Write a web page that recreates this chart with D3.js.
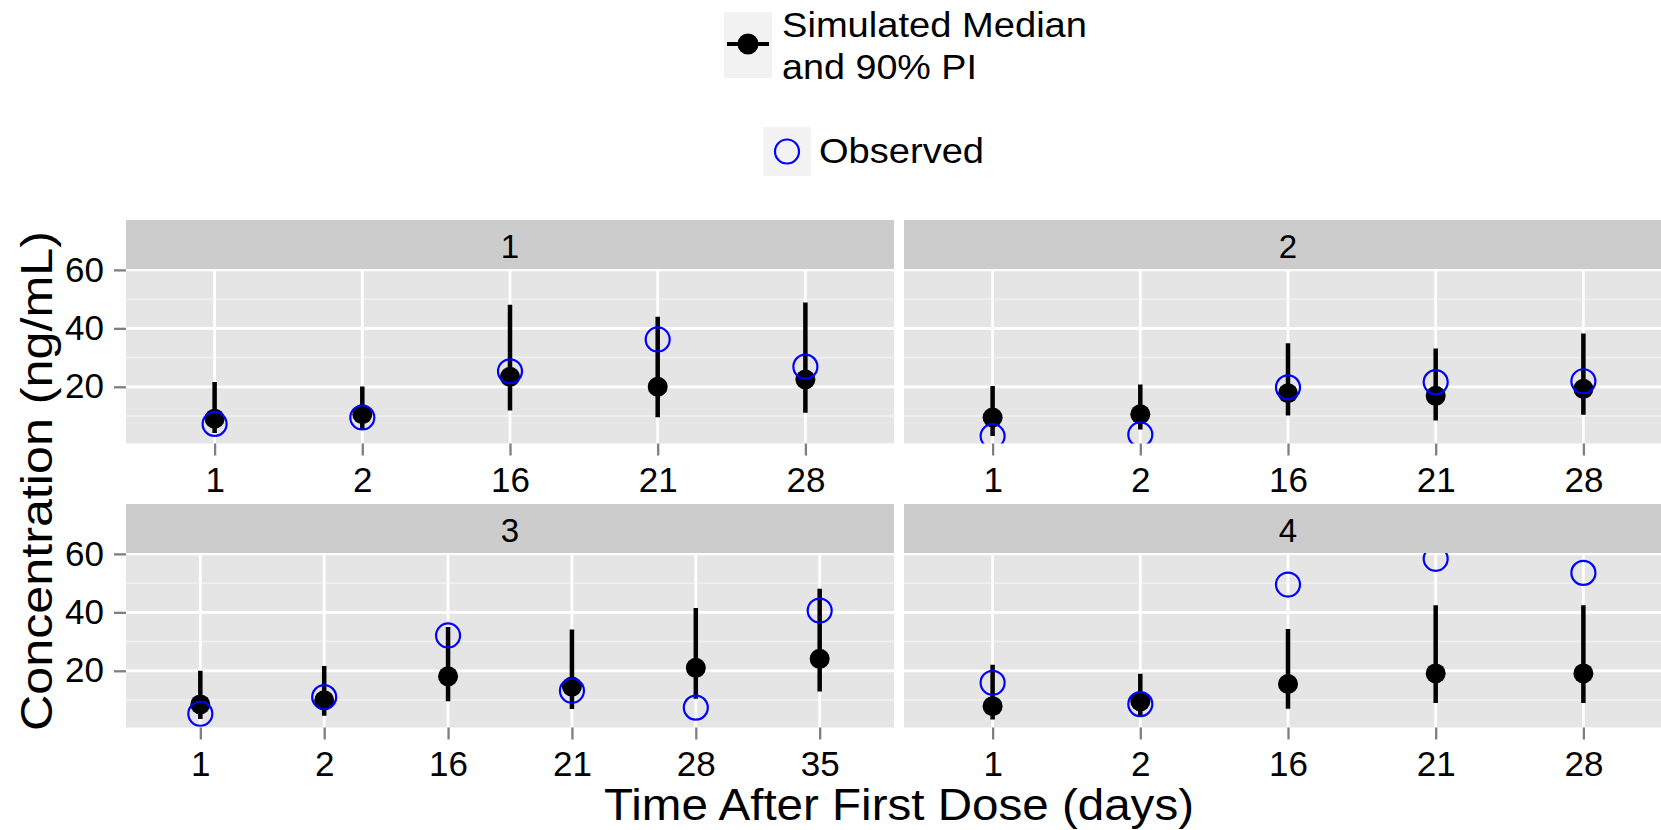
<!DOCTYPE html>
<html>
<head>
<meta charset="utf-8">
<script src="https://cdn.jsdelivr.net/npm/d3@7"></script>
<style>
  html, body { margin: 0; padding: 0; background: #ffffff; }
  svg { display: block; font-family: "Liberation Sans", Arial, Helvetica, sans-serif; }
</style>
</head>
<body>
<svg id="chart" width="1661" height="830"></svg>
<script>
// Facet labels (one panel per group)
const panels = ["1", "2", "3", "4"];

// Sampling times (days) shown on each panel's discrete x axis
const timeLabels = [
  ["1", "2", "16", "21", "28"],
  ["1", "2", "16", "21", "28"],
  ["1", "2", "16", "21", "28", "35"],
  ["1", "2", "16", "21", "28"]
];

// Simulated median concentration (ng/mL)
const simMedian = [
  [9.1, 10.6, 23.4, 20.0, 22.5],
  [9.5, 10.6, 17.8, 16.9, 19.3],
  [8.5, 9.9, 18.1, 14.6, 21.0, 24.1],
  [7.9, 9.5, 15.5, 19.1, 19.1]
];

// Lower bound of the 90% prediction interval
const simLower = [
  [4.2, 5.4, 11.9, 9.6, 11.1],
  [3.2, 5.4, 10.2, 8.5, 10.4],
  [3.5, 4.6, 9.6, 6.9, 10.4, 12.9],
  [3.3, 4.8, 7.0, 9.0, 9.0]
];

// Upper bound of the 90% prediction interval
const simUpper = [
  [21.6, 20.1, 48.1, 44.0, 48.8],
  [20.3, 20.8, 34.9, 33.1, 38.2],
  [20.0, 21.6, 35.0, 34.1, 41.5, 48.1],
  [22.1, 19.0, 34.3, 42.4, 42.4]
];

// Observed concentration (ng/mL)
const observed = [
  [7.3, 9.5, 25.3, 36.2, 26.9],
  [3.1, 3.7, 19.8, 21.6, 21.9],
  [5.3, 11.0, 32.1, 13.2, 7.4, 40.6],
  [15.9, 8.6, 49.5, 58.3, 53.5]
];

// y axis breaks
const yMajorTicks = [20, 40, 60];
const yMinorTicks = [10, 30, 50];

// ---- layout ----
const svg = d3.select("#chart");
const colX = [126, 904];
const panelW = 768;
const rowStripTop = [220, 504];
const stripH = 49;
const panelH = 174.5;
const yDomain = [0.6, 60.3];

const FONT_TICK = 35, FONT_STRIP = 33, FONT_TITLE = 45, FONT_LEGEND = 35;

const defs = svg.append("defs");

panels.forEach((label, i) => {
  const col = i % 2, row = Math.floor(i / 2);
  const x0 = colX[col];
  const stripTop = rowStripTop[row];
  const top = stripTop + stripH;
  const bottom = top + panelH;

  const x = d3.scalePoint().domain(timeLabels[i]).range([x0, x0 + panelW]).padding(0.6);
  const y = d3.scaleLinear().domain(yDomain).range([bottom, top]);

  // strip
  svg.append("rect")
    .attr("x", x0).attr("y", stripTop).attr("width", panelW).attr("height", stripH)
    .attr("fill", "#CCCCCC");
  svg.append("text")
    .attr("x", x0 + panelW / 2).attr("y", stripTop + 37.5)
    .attr("text-anchor", "middle").attr("font-size", FONT_STRIP).attr("fill", "#000")
    .text(label);

  // panel background
  svg.append("rect")
    .attr("x", x0).attr("y", top).attr("width", panelW).attr("height", panelH)
    .attr("fill", "#E5E5E5");

  const g = svg.append("g");
  const clipId = "clip-" + i;
  defs.append("clipPath").attr("id", clipId)
    .append("rect").attr("x", x0).attr("y", top).attr("width", panelW).attr("height", panelH);
  g.attr("clip-path", `url(#${clipId})`);

  // grid lines
  g.selectAll(".minor").data(yMinorTicks).join("line")
    .attr("x1", x0).attr("x2", x0 + panelW)
    .attr("y1", d => y(d)).attr("y2", d => y(d))
    .attr("stroke", "#F2F2F2").attr("stroke-width", 1.4);
  g.selectAll(".major").data(yMajorTicks).join("line")
    .attr("x1", x0).attr("x2", x0 + panelW)
    .attr("y1", d => y(d)).attr("y2", d => y(d))
    .attr("stroke", "#FFFFFF").attr("stroke-width", 2.8);
  g.selectAll(".vmajor").data(timeLabels[i]).join("line")
    .attr("x1", d => x(d)).attr("x2", d => x(d))
    .attr("y1", top).attr("y2", bottom)
    .attr("stroke", "#FFFFFF").attr("stroke-width", 2.8);

  // simulated 90% PI + median
  const sim = timeLabels[i].map((t, k) => ({ t, lo: simLower[i][k], hi: simUpper[i][k], med: simMedian[i][k], obs: observed[i][k] }));
  g.selectAll(".pi").data(sim).join("line")
    .attr("x1", d => x(d.t)).attr("x2", d => x(d.t))
    .attr("y1", d => y(d.lo)).attr("y2", d => y(d.hi))
    .attr("stroke", "#000").attr("stroke-width", 4.5);
  g.selectAll(".med").data(sim).join("circle")
    .attr("cx", d => x(d.t)).attr("cy", d => y(d.med)).attr("r", 10)
    .attr("fill", "#000");

  // observed
  g.selectAll(".obs").data(sim).join("circle")
    .attr("cx", d => x(d.t)).attr("cy", d => y(d.obs)).attr("r", 12)
    .attr("fill", "none").attr("stroke", "#0000FF").attr("stroke-width", 2.2);

  // x axis
  const xAxis = svg.append("g")
    .attr("transform", `translate(0,${bottom})`)
    .call(d3.axisBottom(x).tickSize(12).tickPadding(12));
  xAxis.select(".domain").remove();
  xAxis.selectAll(".tick line").attr("stroke", "#7F7F7F").attr("stroke-width", 2.3);
  xAxis.selectAll(".tick text").attr("font-size", FONT_TICK).attr("fill", "#000")
    .attr("font-family", null);

  // y axis on left column only
  if (col === 0) {
    const yAxis = svg.append("g")
      .attr("transform", `translate(${x0},0)`)
      .call(d3.axisLeft(y).tickValues(yMajorTicks).tickSize(12).tickPadding(10));
    yAxis.select(".domain").remove();
    yAxis.selectAll(".tick line").attr("stroke", "#7F7F7F").attr("stroke-width", 2.3);
    yAxis.selectAll(".tick text").attr("font-size", FONT_TICK).attr("fill", "#000")
      .attr("font-family", null);
  }
});

// axis titles
svg.append("text")
  .attr("x", 899).attr("y", 820)
  .attr("text-anchor", "middle").attr("font-size", FONT_TITLE)
  .attr("textLength", 590).attr("lengthAdjust", "spacingAndGlyphs")
  .text("Time After First Dose (days)");
svg.append("text")
  .attr("transform", "translate(52,481) rotate(-90)")
  .attr("text-anchor", "middle").attr("font-size", FONT_TITLE)
  .attr("textLength", 500).attr("lengthAdjust", "spacingAndGlyphs")
  .text("Concentration (ng/mL)");

// legend: simulated
const leg1 = svg.append("g");
leg1.append("rect").attr("x", 724).attr("y", 12).attr("width", 48).attr("height", 66).attr("fill", "#F2F2F2");
leg1.append("line").attr("x1", 727).attr("x2", 769).attr("y1", 44).attr("y2", 44)
  .attr("stroke", "#000").attr("stroke-width", 4);
leg1.append("circle").attr("cx", 748).attr("cy", 44).attr("r", 10.5).attr("fill", "#000");
leg1.append("text").attr("x", 782).attr("y", 37).attr("font-size", FONT_LEGEND)
  .attr("textLength", 305).attr("lengthAdjust", "spacingAndGlyphs").text("Simulated Median");
leg1.append("text").attr("x", 782).attr("y", 79).attr("font-size", FONT_LEGEND)
  .attr("textLength", 195).attr("lengthAdjust", "spacingAndGlyphs").text("and 90% PI");

// legend: observed
const leg2 = svg.append("g");
leg2.append("rect").attr("x", 763).attr("y", 127).attr("width", 48).attr("height", 49).attr("fill", "#F2F2F2");
leg2.append("circle").attr("cx", 787).attr("cy", 151.5).attr("r", 12)
  .attr("fill", "none").attr("stroke", "#0000FF").attr("stroke-width", 2.2);
leg2.append("text").attr("x", 819).attr("y", 163).attr("font-size", FONT_LEGEND)
  .attr("textLength", 165).attr("lengthAdjust", "spacingAndGlyphs").text("Observed");
</script>
</body>
</html>
